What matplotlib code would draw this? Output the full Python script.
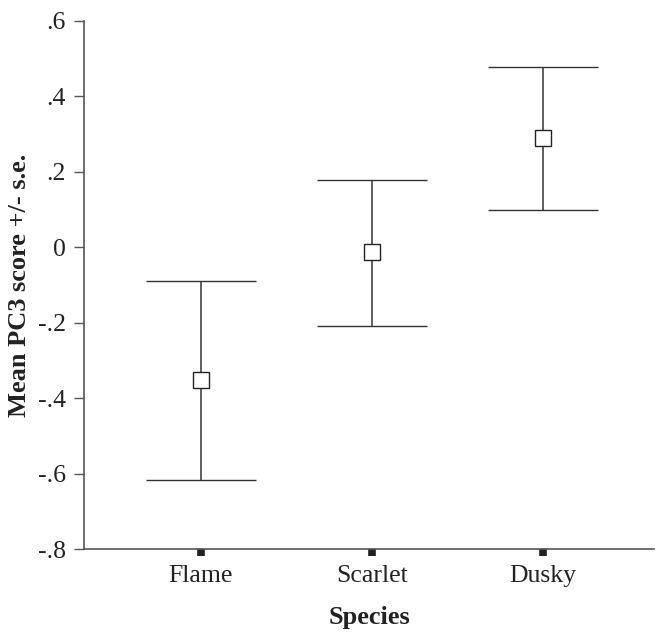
import matplotlib
matplotlib.use("Agg")
import matplotlib.pyplot as plt
import numpy as np

species = ["Flame", "Scarlet", "Dusky"]
means = [-0.351, -0.013, 0.289]
upper = [-0.089, 0.178, 0.477]
lower = [-0.616, -0.209, 0.099]
ytick_vals = [-0.8, -0.6, -0.4, -0.2, 0.0, 0.2, 0.4, 0.6]
ytick_labels = ["-.8", "-.6", "-.4", "-.2", "0", ".2", ".4", ".6"]

plt.rcParams['font.family'] = ['Liberation Serif', 'DejaVu Serif']

fig = plt.figure(figsize=(6.62, 6.36), dpi=100)
ax = fig.add_axes([84/662, 1-549.3/636, (654-84)/662, (549.3-20.7)/636])

x = np.arange(1, len(species)+1)
means_a = np.array(means)
yerr = np.vstack([means_a - np.array(lower), np.array(upper) - means_a])
ax.errorbar(x, means_a, yerr=yerr, fmt='s', mfc='white', mec='#222222',
            ms=11, mew=1.0, ecolor='#333333', elinewidth=1.1,
            capsize=39.6, capthick=1.1, zorder=3)

ax.set_xlim(0.316, 3.65)
ax.set_ylim(-0.8, 0.6)
ax.set_yticks(ytick_vals)
ax.set_yticklabels(ytick_labels)
ax.set_xticks(x)
ax.set_xticklabels(species)

for s in ['top', 'right']:
    ax.spines[s].set_visible(False)
for s in ['left', 'bottom']:
    ax.spines[s].set_color('#555555')
    ax.spines[s].set_linewidth(1.2)

ax.tick_params(axis='y', direction='out', length=7, width=1.0, color='#555555',
               labelsize=18.5, pad=6, labelcolor='#222222')
ax.tick_params(axis='x', direction='out', length=5, width=5.5, color='#222222',
               labelsize=18.5, pad=6, labelcolor='#222222')

ax.set_xlabel("Species", fontsize=19, fontweight='bold', color='#222222')
ax.set_ylabel("Mean PC3 score +/- s.e.", fontsize=19, fontweight='bold', color='#222222')
ax.xaxis.set_label_coords(0.5, -0.108)
ax.yaxis.set_label_coords(-0.093, 0.5)

fig.savefig("out.png", dpi=100)
